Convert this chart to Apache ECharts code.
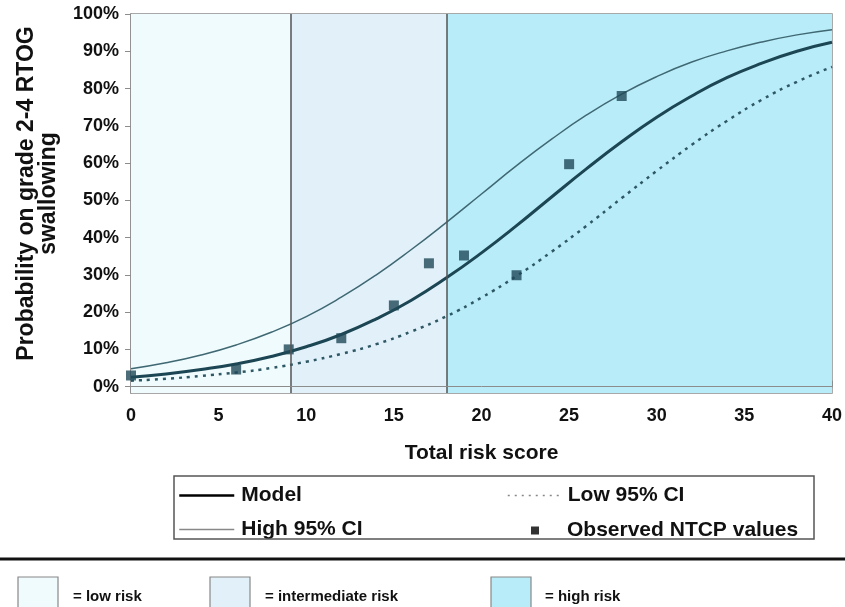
<!DOCTYPE html>
<html>
<head>
<meta charset="utf-8">
<script src="https://cdn.jsdelivr.net/npm/echarts@6/dist/echarts.min.js"></script>
<style>
html,body{margin:0;padding:0;background:#fff;}
#chart{width:845px;height:607px;}
</style>
</head>
<body>
<div id="chart"></div>
<script>
// ---- data ----
const scores = [0, 2, 4, 6, 8, 10, 12, 14, 16, 18, 20, 22, 24, 26, 28, 30, 32, 34, 36, 38, 40];
const modelVals = [2.5, 3.4, 4.6, 6.1, 8.1, 10.7, 14.0, 18.2, 23.2, 29.2, 35.9, 43.2, 50.9, 58.5, 65.7, 72.3, 78.0, 82.9, 86.8, 90.0, 92.4];
const highVals  = [4.8, 6.4, 8.5, 11.2, 14.6, 18.8, 24.0, 30.0, 36.8, 44.1, 51.7, 59.3, 66.4, 72.9, 78.5, 83.2, 87.1, 90.1, 92.5, 94.4, 95.8];
const lowVals   = [1.6, 2.1, 2.9, 3.8, 5.0, 6.7, 8.8, 11.4, 14.8, 18.9, 23.9, 29.7, 36.2, 43.2, 50.6, 57.9, 64.9, 71.3, 77.0, 81.8, 85.8];
const obsScores = [0, 6, 9, 12, 15, 17, 19, 22, 25, 28];
const obsVals   = [3.0, 4.6, 10.0, 13.0, 21.8, 33.1, 35.2, 29.9, 59.7, 78.0];
const riskBounds = [0, 9.1, 18, 40];
const riskNames = ['= low risk', '= intermediate risk', '= high risk'];
const yTicks = [0, 10, 20, 30, 40, 50, 60, 70, 80, 90, 100];

const riskColors = ['#effbfc', '#e1f0f9', '#b8ecf8'];
const pair = (xs, ys) => xs.map((x, i) => [x, ys[i] / 100]);

const chart = echarts.init(document.getElementById('chart'), null, {renderer: 'canvas'});
const FONT = 'Liberation Sans, Arial, sans-serif';

const bottomLegendX = [18, 210, 491];
const bottomTextX = [73, 265, 545];
const graphics = [
  {type: 'rect', shape: {x: 174, y: 476, width: 640, height: 63}, style: {fill: 'none', stroke: '#555', lineWidth: 1.5}, z: 10},
  {type: 'line', shape: {x1: 0, y1: 559, x2: 845, y2: 559}, style: {stroke: '#111', lineWidth: 3}, z: 10}
];
riskNames.forEach((t, i) => {
  graphics.push({type: 'rect', shape: {x: bottomLegendX[i], y: 577, width: 40, height: 40}, style: {fill: riskColors[i], stroke: '#888', lineWidth: 1.2}, z: 10});
  graphics.push({type: 'text', x: bottomTextX[i], y: 597, style: {text: t, font: 'bold 15px ' + FONT, fill: '#111', verticalAlign: 'middle'}, z: 10});
});

const hidden = {opacity: 0};
const option = {
  animation: false,
  backgroundColor: '#fff',
  grid: {left: 131, right: 12, top: 14, bottom: 214, show: true, borderColor: '#8c8c8c', borderWidth: 1.5, containLabel: false},
  xAxis: {
    type: 'value', min: 0, max: 40, interval: 5,
    name: 'Total risk score', nameLocation: 'middle', nameGap: 50,
    nameTextStyle: {fontFamily: FONT, fontWeight: 'bold', fontSize: 21, color: '#111'},
    axisLine: {show: true, lineStyle: {color: '#8c8c8c', width: 1.5}},
    axisTick: {show: true, inside: true, length: 6, lineStyle: {color: '#8c8c8c'}},
    axisLabel: {fontFamily: FONT, fontWeight: 'bold', fontSize: 18, color: '#111', margin: 14},
    splitLine: {show: false}
  },
  yAxis: {
    type: 'value', min: -0.017, max: 1,
    name: 'Probability on grade 2-4 RTOG\nswallowing', nameLocation: 'middle', nameGap: 71,
    nameTextStyle: {fontFamily: FONT, fontWeight: 'bold', fontSize: 23, lineHeight: 22, color: '#111', align: 'center', padding: [0, 0, 0, 20]},
    axisLine: {show: true, lineStyle: {color: '#8c8c8c', width: 1.5}},
    axisTick: {show: true, inside: false, length: 6, lineStyle: {color: '#8c8c8c'}, customValues: yTicks.map(v => v / 100)},
    axisLabel: {fontFamily: FONT, fontWeight: 'bold', fontSize: 18, color: '#111', margin: 12,
      customValues: yTicks.map(v => v / 100),
      formatter: v => Math.round(v * 100) + '%'},
    splitLine: {show: false}
  },
  legend: [
    {
      left: 178, top: 485, padding: 0, orient: 'vertical', itemWidth: 55, itemHeight: 14, itemGap: 13,
      textStyle: {fontFamily: FONT, fontWeight: 'bold', fontSize: 21, color: '#111', padding: [0, 0, 0, 2]},
      selectedMode: false,
      data: [
        {name: 'Model', lineStyle: {color: '#000', width: 2.5, type: 'solid'}, itemStyle: hidden},
        {name: 'High 95% CI', lineStyle: {color: '#888', width: 1.5, type: 'solid'}, itemStyle: hidden}
      ]
    },
    {
      left: 507, top: 485, padding: 0, orient: 'vertical', itemWidth: 55, itemHeight: 14,
      textStyle: {fontFamily: FONT, fontWeight: 'bold', fontSize: 21, color: '#111'},
      selectedMode: false,
      data: [{name: 'Low 95% CI', lineStyle: {color: '#888', width: 1.5, type: [2, 5]}, itemStyle: hidden}]
    },
    {
      left: 531, top: 520, padding: 0, orient: 'vertical', itemWidth: 8, itemHeight: 8,
      textStyle: {fontFamily: FONT, fontWeight: 'bold', fontSize: 21, color: '#111', padding: [0, 0, 0, 23]},
      selectedMode: false,
      data: [{name: 'Observed NTCP values', icon: 'rect', itemStyle: {color: '#000'}}]
    }
  ],
  graphic: graphics,
  series: [
    {
      name: 'bands', type: 'line', data: [], z: 1, silent: true,
      markArea: {
        silent: true,
        data: riskColors.map((c, i) => [
          {xAxis: riskBounds[i], itemStyle: {color: c}},
          {xAxis: riskBounds[i + 1]}
        ])
      },
      markLine: {
        silent: true, symbol: 'none', label: {show: false},
        data: [
          {xAxis: riskBounds[1], lineStyle: {color: '#555', width: 1.5, type: 'solid'}},
          {xAxis: riskBounds[2], lineStyle: {color: '#555', width: 1.5, type: 'solid'}},
          {yAxis: 0, lineStyle: {color: '#8c8c8c', width: 1, type: 'solid'}}
        ]
      }
    },
    {
      name: 'High 95% CI', type: 'line', smooth: true, symbol: 'none', z: 3,
      lineStyle: {color: '#3f6873', width: 1.5},
      data: pair(scores, highVals)
    },
    {
      name: 'Low 95% CI', type: 'line', smooth: true, symbol: 'none', z: 3,
      lineStyle: {color: '#2f5865', width: 2.5, type: [3, 5]},
      data: pair(scores, lowVals)
    },
    {
      name: 'Model', type: 'line', smooth: true, symbol: 'none', z: 3,
      lineStyle: {color: '#1c4653', width: 3},
      data: pair(scores, modelVals)
    },
    {
      name: 'Observed NTCP values', type: 'scatter', symbol: 'rect', symbolSize: 10, z: 4,
      itemStyle: {color: '#1f4957'},
      data: pair(obsScores, obsVals)
    }
  ]
};
chart.setOption(option);
</script>
</body>
</html>
